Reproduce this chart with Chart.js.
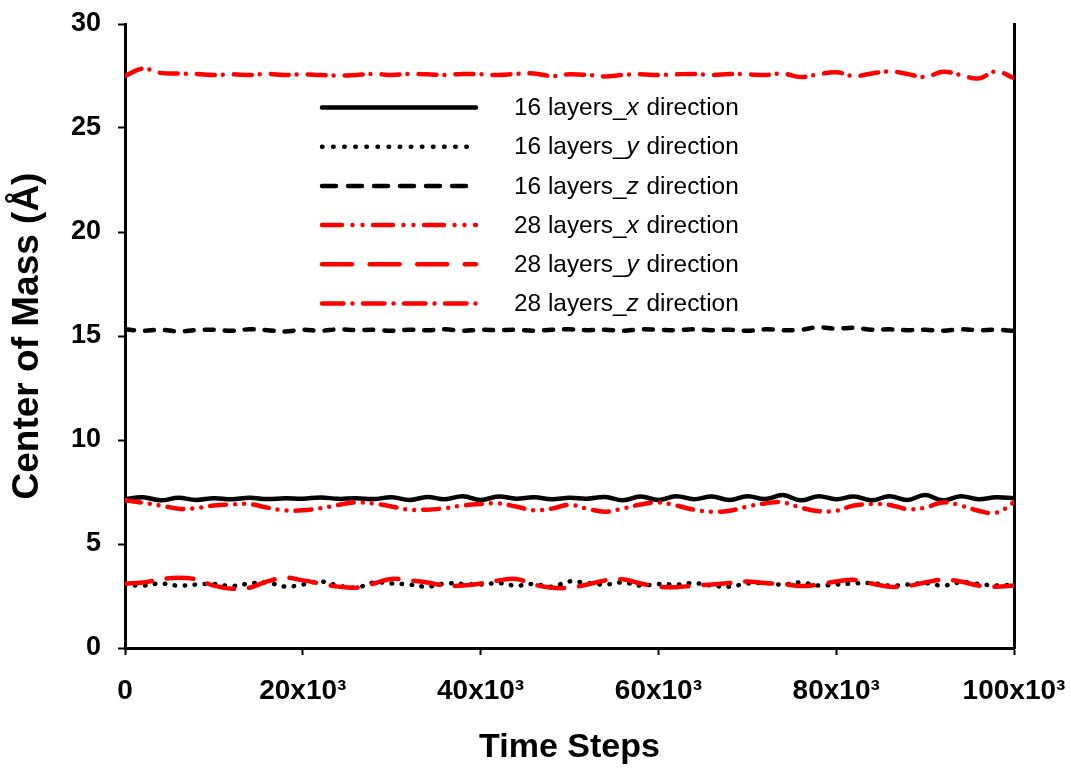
<!DOCTYPE html>
<html>
<head>
<meta charset="utf-8">
<script src="https://cdn.jsdelivr.net/npm/chart.js@4/dist/chart.umd.min.js"></script>
<style>
  html, body { margin: 0; padding: 0; background: #fff; }
  canvas { display: block; }
</style>
</head>
<body>
<canvas id="c" width="1071" height="769"></canvas>
<script>
// ---- data ----
const steps = [0, 2000, 4000, 6000, 8000, 10000, 12000, 14000, 16000, 18000,
  20000, 22000, 24000, 26000, 28000, 30000, 32000, 34000, 36000, 38000,
  40000, 42000, 44000, 46000, 48000, 50000, 52000, 54000, 56000, 58000,
  60000, 62000, 64000, 66000, 68000, 70000, 72000, 74000, 76000, 78000,
  80000, 82000, 84000, 86000, 88000, 90000, 92000, 94000, 96000, 98000,
  100000];

const layers16_x = [7.15, 7.25, 7.10, 7.22, 7.12, 7.20, 7.15, 7.22, 7.16, 7.20,
  7.18, 7.24, 7.17, 7.20, 7.16, 7.25, 7.12, 7.26, 7.15, 7.30,
  7.12, 7.28, 7.18, 7.25, 7.15, 7.22, 7.18, 7.26, 7.10, 7.28,
  7.12, 7.30, 7.15, 7.28, 7.12, 7.30, 7.16, 7.35, 7.10, 7.30,
  7.15, 7.28, 7.10, 7.30, 7.12, 7.35, 7.10, 7.30, 7.15, 7.25,
  7.20];

const layers16_y = [3.05, 3.00, 3.10, 3.00, 3.05, 3.08, 2.98, 3.10, 3.15, 2.95,
  3.05, 3.20, 3.00, 2.90, 3.15, 3.10, 3.05, 2.95, 3.10, 3.08,
  3.05, 3.12, 3.00, 3.08, 2.95, 3.20, 3.12, 3.05, 3.15, 3.00,
  3.08, 3.05, 3.12, 3.00, 2.95, 3.10, 3.12, 3.05, 3.15, 3.00,
  3.05, 3.10, 3.12, 3.00, 3.05, 3.12, 3.00, 3.15, 3.08, 3.00,
  3.05];

const layers16_z = [15.32, 15.25, 15.30, 15.22, 15.28, 15.30, 15.25, 15.32, 15.28, 15.22,
  15.30, 15.25, 15.32, 15.28, 15.30, 15.25, 15.30, 15.28, 15.32, 15.25,
  15.30, 15.28, 15.30, 15.25, 15.30, 15.32, 15.28, 15.30, 15.25, 15.32,
  15.30, 15.28, 15.32, 15.28, 15.30, 15.25, 15.32, 15.28, 15.30, 15.42,
  15.35, 15.40, 15.30, 15.32, 15.28, 15.30, 15.25, 15.32, 15.28, 15.30,
  15.25];

const layers28_x = [7.10, 6.98, 6.85, 6.70, 6.72, 6.85, 6.90, 6.92, 6.75, 6.62,
  6.62, 6.72, 6.88, 7.00, 6.95, 6.80, 6.65, 6.65, 6.72, 6.85,
  6.92, 6.95, 6.80, 6.62, 6.70, 6.88, 6.70, 6.55, 6.70, 6.90,
  7.00, 6.85, 6.65, 6.55, 6.60, 6.80, 6.95, 7.00, 6.75, 6.58,
  6.60, 6.85, 6.92, 6.88, 6.68, 6.75, 7.00, 6.85, 6.60, 6.50,
  7.00];

const layers28_y = [3.10, 3.15, 3.30, 3.38, 3.30, 3.00, 2.85, 2.90, 3.20, 3.38,
  3.25, 3.10, 2.95, 2.90, 3.10, 3.32, 3.25, 3.15, 3.00, 3.00,
  3.10, 3.25, 3.32, 3.05, 2.90, 2.90, 3.05, 3.25, 3.30, 3.10,
  2.95, 2.92, 3.00, 3.05, 3.12, 3.20, 3.12, 3.08, 2.98, 3.05,
  3.20, 3.28, 3.10, 2.95, 2.98, 3.15, 3.28, 3.20, 3.00, 2.95,
  3.00];

const layers28_z = [27.50, 27.85, 27.65, 27.62, 27.60, 27.55, 27.58, 27.55, 27.60, 27.55,
  27.58, 27.55, 27.52, 27.55, 27.60, 27.55, 27.60, 27.58, 27.55, 27.60,
  27.58, 27.55, 27.60, 27.62, 27.50, 27.58, 27.55, 27.48, 27.55, 27.58,
  27.55, 27.58, 27.60, 27.55, 27.60, 27.58, 27.55, 27.62, 27.45, 27.58,
  27.68, 27.50, 27.62, 27.72, 27.60, 27.45, 27.70, 27.55, 27.38, 27.72,
  27.40];

const seriesPrefix = ['16 layers_', '16 layers_', '16 layers_', '28 layers_', '28 layers_', '28 layers_'];
const seriesAxis = ['x', 'y', 'z', 'x', 'y', 'z'];
const seriesSuffix = ' direction';

const yTicks = [0, 5, 10, 15, 20, 25, 30];
const xTickLabels = { 0: '0', 20000: '20x10³', 40000: '40x10³', 60000: '60x10³', 80000: '80x10³', 100000: '100x10³' };

const xTitle = 'Time Steps';
const yTitle = 'Center of Mass (Å)';

// ---- chart ----
const FONT = '"Liberation Sans", Arial, Helvetica, sans-serif';
const toXY = arr => arr.map((v, i) => ({ x: steps[i], y: v }));

const seriesValues = [layers16_x, layers16_y, layers16_z, layers28_x, layers28_y, layers28_z];
const styles = [
  { color: '#000000', dash: [], legendDash: [], order: 1 },
  { color: '#000000', dash: [0.5, 9.5], legendDash: [0.5, 10.6], order: 1 },
  { color: '#000000', dash: [9, 11], legendDash: [14, 12], order: 1 },
  { color: '#ff0000', dash: [16, 9, 0, 9, 0, 9], legendDash: [20, 10.5, 0, 10, 0, 10.5], order: 0 },
  { color: '#ff0000', dash: [27, 15], legendDash: [30, 17.6], order: 0 },
  { color: '#ff0000', dash: [18, 8, 0, 11], legendDash: [21.5, 9, 0, 10.5], order: 0 }
];

const datasets = seriesValues.map((vals, i) => ({
  label: seriesPrefix[i] + seriesAxis[i] + seriesSuffix,
  data: toXY(vals),
  borderColor: styles[i].color,
  backgroundColor: styles[i].color,
  borderWidth: 4.5,
  borderDash: styles[i].dash,
  legendDash: styles[i].legendDash,
  borderCapStyle: 'round',
  borderJoinStyle: 'round',
  pointRadius: 0,
  pointHoverRadius: 0,
  tension: 0.4,
  fill: false,
  order: styles[i].order
}));

const legendPlugin = {
  id: 'customLegend',
  afterDatasetsDraw(chart) {
    const ctx = chart.ctx;
    const x0 = 322, x1 = 476, textX = 514, y0 = 107.5, dy = 39.2;
    chart.data.datasets.forEach((ds, i) => {
      const y = y0 + i * dy;
      ctx.save();
      ctx.strokeStyle = ds.borderColor;
      ctx.lineWidth = ds.borderWidth;
      ctx.lineCap = 'round';
      ctx.setLineDash(ds.legendDash);
      ctx.beginPath();
      ctx.moveTo(x0, y);
      ctx.lineTo(x1, y);
      ctx.stroke();
      ctx.setLineDash([]);
      ctx.fillStyle = '#000';
      ctx.textBaseline = 'middle';
      ctx.textAlign = 'left';
      let x = textX;
      ctx.font = '24.4px ' + FONT;
      ctx.fillText(seriesPrefix[i], x, y + 1);
      x += ctx.measureText(seriesPrefix[i]).width;
      ctx.font = 'italic 24.4px ' + FONT;
      ctx.fillText(seriesAxis[i], x, y + 1);
      x += ctx.measureText(seriesAxis[i]).width + 1;
      ctx.font = '24.4px ' + FONT;
      ctx.fillText(seriesSuffix, x, y + 1);
      ctx.restore();
    });
  }
};

new Chart(document.getElementById('c'), {
  type: 'line',
  data: { datasets },
  plugins: [legendPlugin],
  options: {
    responsive: false,
    animation: false,
    events: [],
    layout: { padding: { top: 24, right: 57, bottom: 0, left: 0 } },
    plugins: { legend: { display: false }, tooltip: { enabled: false } },
    scales: {
      x: {
        type: 'linear',
        min: 0, max: 100000,
        afterFit: s => { s.height = 121; s.paddingLeft = 0; s.paddingRight = 0; },
        afterBuildTicks: s => { s.ticks = Object.keys(xTickLabels).map(v => ({ value: Number(v) })); },
        ticks: {
          callback: v => xTickLabels[v],
          color: '#000',
          font: { family: FONT, size: 28, weight: 'bold' },
          padding: 19,
          maxRotation: 0,
          autoSkip: false
        },
        grid: { display: true, drawOnChartArea: false, drawTicks: true, tickLength: 7, tickWidth: 2, tickColor: '#000', color: '#000' },
        border: { display: true, color: '#000', width: 3 },
        title: {
          display: true, text: xTitle, color: '#000',
          font: { family: FONT, size: 34, weight: 'bold', lineHeight: 1 },
          padding: { top: 0, bottom: 4 }
        }
      },
      y: {
        type: 'linear',
        position: 'left',
        min: 0, max: 30,
        afterFit: s => { s.width = 125; s.paddingTop = 0; s.paddingBottom = 0; },
        afterBuildTicks: s => { s.ticks = yTicks.map(v => ({ value: v })); },
        ticks: {
          color: '#000',
          font: { family: FONT, size: 27, weight: 'bold' },
          padding: 17
        },
        grid: { display: true, drawOnChartArea: false, drawTicks: true, tickLength: 7, tickWidth: 2, tickColor: '#000', color: '#000' },
        border: { display: true, color: '#000', width: 3 },
        title: {
          display: true, text: yTitle, color: '#000',
          font: { family: FONT, size: 37, weight: 'bold', lineHeight: 1 },
          padding: { top: 9.5, bottom: 0 }
        }
      },
      y2: {
        type: 'linear',
        position: 'right',
        min: 0, max: 30,
        afterFit: s => { s.width = 0; s.paddingTop = 0; s.paddingBottom = 0; },
        ticks: { display: false },
        grid: { display: false },
        border: { display: true, color: '#000', width: 3 }
      }
    }
  }
});
</script>
</body>
</html>
